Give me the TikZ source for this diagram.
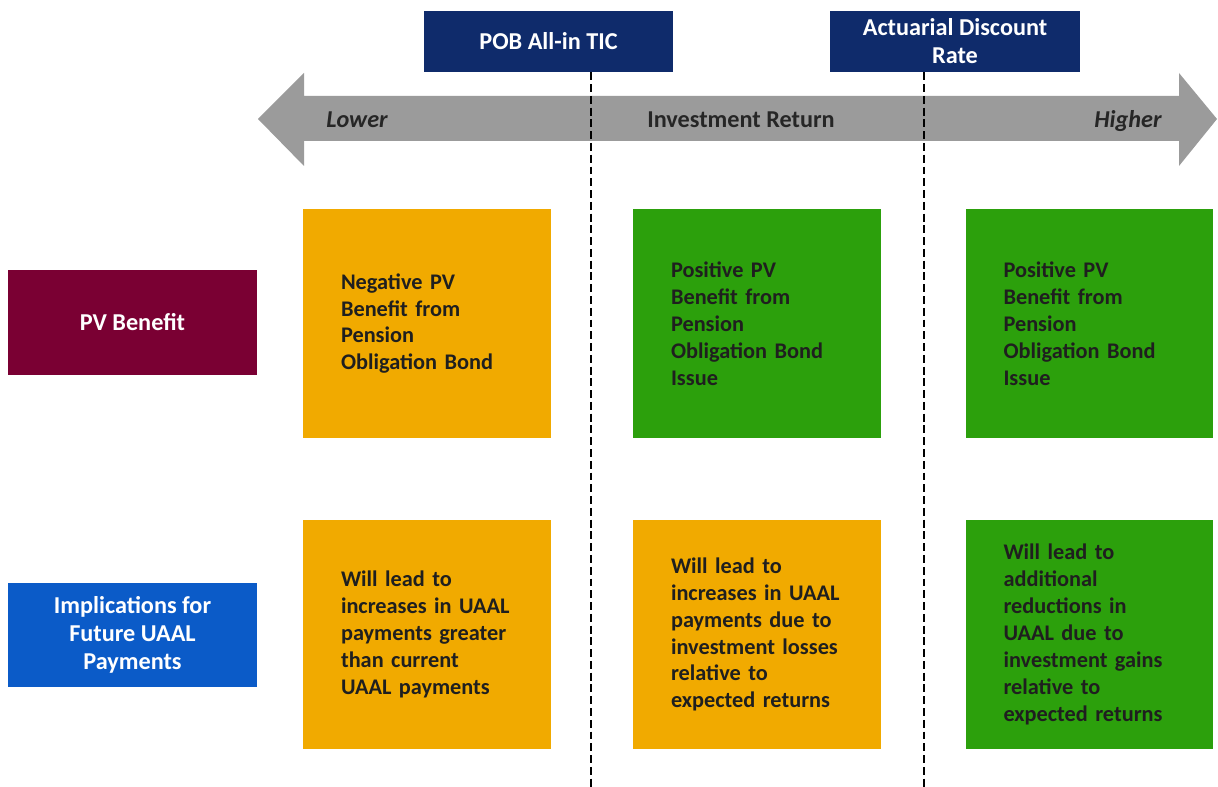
\documentclass[tikz,border=0pt]{standalone}
\usepackage{fontspec}
\setmainfont{Carlito}
\definecolor{navyT}{HTML}{0F2B6B}
\definecolor{maroonT}{HTML}{7A0033}
\definecolor{blueT}{HTML}{0B5BC8}
\definecolor{orangeT}{HTML}{F1AA00}
\definecolor{greenT}{HTML}{2CA00C}
\definecolor{greyT}{HTML}{9B9B9B}
\begin{document}
\begin{tikzpicture}[x=0.02cm,y=-0.02cm,font=\fontsize{12.7}{15.3}\selectfont\bfseries, line join=round, line cap=round,
	bigtext/.style={font=\fontsize{13.8}{15.9}\selectfont\bfseries},
	topbox/.style={bigtext,fill=navyT,text=white,minimum width=4.99cm,minimum height=1.22cm,align=center,inner sep=0pt},
	sidebox/.style={bigtext,text=white,minimum width=4.98cm,minimum height=2.09cm,align=center,inner sep=0pt},
	arrowtext/.style={bigtext,anchor=base,text=black!85},
	cell/.style={text=black!88,text width=3.44cm,minimum height=4.58cm,inner xsep=0.76cm,inner ysep=0pt,align=left}]
				%%Khung hình
				\useasboundingbox (0,0) rectangle (1218,787);
				\def \ytop{96}
				\def \ybot{141}
				\def \yhead{73}
				\def \yfoot{166}
				%%Mũi tên hai chiều
				\fill[greyT] (258,119)--(304,\yhead)--(304,\ytop)--(1179,\ytop)--(1179,\yhead)--(1217,119)
					--(1179,\yfoot)--(1179,\ybot)--(304,\ybot)--(304,\yfoot)--cycle;
				\node[arrowtext] (lower) at (357,128) {\itshape Lower};
				\node[arrowtext] (ret) at (741,128) {Investment Return};
				\node[arrowtext] (higher) at (1128,128) {\itshape Higher};
				%%Hai mốc lãi suất
				\node[topbox] (pob) at (548.5,41.5) {POB All-in TIC};
				\node[topbox] (adr) at (955,41.5) {Actuarial Discount\\Rate};
				\coordinate (cutA) at (591,787);
				\coordinate (cutB) at (924,787);
				\draw[dashed,line cap=butt,line width=1.3pt,dash pattern=on 4.5pt off 2.2pt] (pob.south -| cutA)--(cutA)
					(adr.south -| cutB)--(cutB);
				%%Nhãn hàng
				\node[sidebox,fill=maroonT] (pv) at (132.5,322.5) {PV Benefit};
				\node[sidebox,fill=blueT] (impl) at (132.5,635) {Implications for\\Future UAAL\\Payments};
				%%Hàng 1
				\node[cell,fill=orangeT] (pvA) at (427,323.5) {Negative PV\\Benefit from\\Pension\\Obligation Bond};
				\node[cell,fill=greenT] (pvB) at (757,323.5) {Positive PV\\Benefit from\\Pension\\Obligation Bond\\Issue};
				\node[cell,fill=greenT] (pvC) at (1089.5,323.5) {Positive PV\\Benefit from\\Pension\\Obligation Bond\\Issue};
				%%Hàng 2
				\node[cell,fill=orangeT] (impA) at (427,634.5) {Will lead to\\increases in UAAL\\payments greater\\than current\\UAAL payments};
				\node[cell,fill=orangeT] (impB) at (757,634.5) {Will lead to\\increases in UAAL\\payments due to\\investment losses\\relative to\\expected returns};
				\node[cell,fill=greenT] (impC) at (1089.5,634.5) {Will lead to\\additional\\reductions in\\UAAL due to\\investment gains\\relative to\\expected returns};
			\end{tikzpicture}
\end{document}
